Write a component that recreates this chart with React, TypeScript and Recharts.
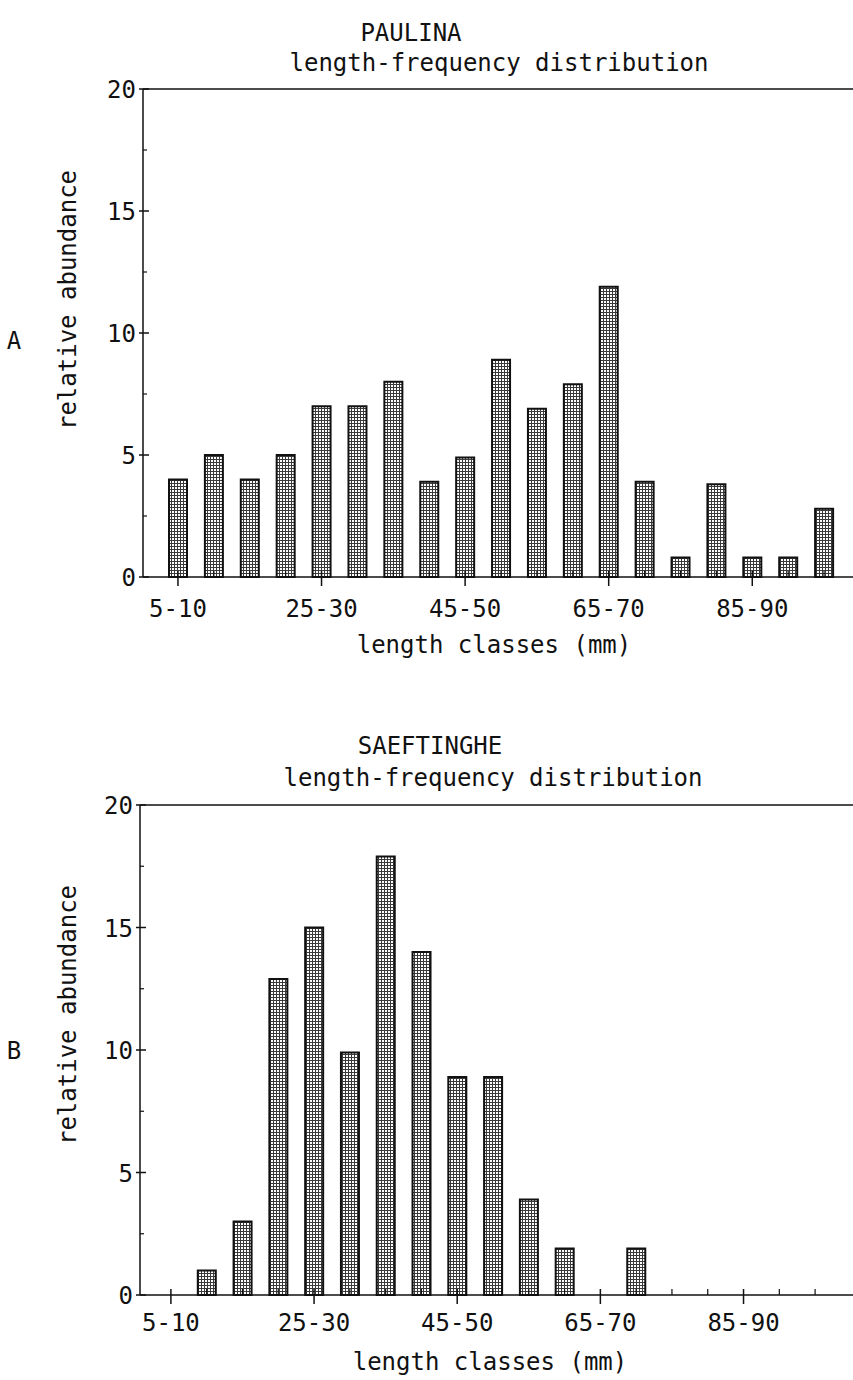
import React from 'react';
import { BarChart, Bar, XAxis, YAxis, ReferenceLine } from 'recharts';

const classes = ['5-10', '10-15', '15-20', '20-25', '25-30', '30-35', '35-40', '40-45', '45-50', '50-55', '55-60', '60-65', '65-70', '70-75', '75-80', '80-85', '85-90', '90-95', '95-100'];
const paulina = [4, 5, 4, 5, 7, 7, 8, 3.9, 4.9, 8.9, 6.9, 7.9, 11.9, 3.9, 0.8, 3.8, 0.8, 0.8, 2.8];
const saeftinghe = [0, 1, 3, 12.9, 15, 9.9, 17.9, 14, 8.9, 8.9, 3.9, 1.9, 0, 1.9, 0, 0, 0, 0, 0];
const yTicks = [0, 2.5, 5, 7.5, 10, 12.5, 15, 17.5, 20];
const majorY = [0, 5, 10, 15, 20];

const paulinaData = classes.map((c, i) => ({ cls: c, v: paulina[i] }));
const saeftingheData = classes.map((c, i) => ({ cls: c, v: saeftinghe[i] }));

const FONT = '"DejaVu Sans Mono", monospace';
const INK = '#111';

const XTick = (props: any) => {
  const { x, y, index, payload, labelDy } = props;
  const major = index % 4 === 0;
  return (
    <g>
      {major ? (
        <line x1={x} x2={x} y1={y - 6} y2={y + 9} stroke={INK} strokeWidth={1.5} />
      ) : (
        <line x1={x} x2={x} y1={y - 6} y2={y} stroke={INK} strokeWidth={1.2} />
      )}
      {major && (
        <text x={x} y={y + labelDy} textAnchor="middle" fontFamily={FONT} fontSize={24} fill={INK}>
          {payload.value}
        </text>
      )}
    </g>
  );
};

const YTick = (props: any) => {
  const { x, y, payload } = props;
  const major = majorY.includes(payload.value);
  return (
    <g>
      {major ? (
        <line x1={x - 4} x2={x + 6} y1={y} y2={y} stroke={INK} strokeWidth={1.5} />
      ) : (
        <line x1={x} x2={x + 4} y1={y} y2={y} stroke={INK} strokeWidth={1.2} />
      )}
      {major && (
        <text x={x - 7} y={y + 9} textAnchor="end" fontFamily={FONT} fontSize={24} fill={INK}>
          {payload.value}
        </text>
      )}
    </g>
  );
};

const Dots = ({ id }: { id: string }) => (
  <defs>
    <pattern id={id} width="3" height="3" patternUnits="userSpaceOnUse">
      <rect width="3" height="3" fill="#3a3a3a" />
      <rect x="1" y="1" width="2" height="2" fill="#ffffff" />
    </pattern>
  </defs>
);

const T = (p: { x: number; y: number; children: React.ReactNode; rotate?: boolean }) => (
  <text
    x={p.x}
    y={p.y}
    textAnchor="middle"
    fontFamily={FONT}
    fontSize={24}
    fill={INK}
    transform={p.rotate ? `rotate(-90 ${p.x} ${p.y})` : undefined}
  >
    {p.children}
  </text>
);

export default function App() {
  return (
    <div style={{ position: 'absolute', left: 0, top: 0, width: 853, height: 1380, background: '#fff' }}>
      <div style={{ position: 'absolute', left: 0, top: 0 }}>
        <BarChart width={853} height={700} data={paulinaData} margin={{ top: 89, right: 0, bottom: 0, left: 0 }} barSize={18}>
          <Dots id="dotsA" />
          <XAxis
            dataKey="cls"
            height={123}
            interval={0}
            padding={{ left: 17, right: 11 }}
            tickLine={false}
            tickSize={0}
            tickMargin={0}
            axisLine={{ stroke: INK, strokeWidth: 1.5 }}
            tick={<XTick labelDy={40} />}
          />
          <YAxis
            width={143}
            domain={[0, 20]}
            ticks={yTicks}
            interval={0}
            tickLine={false}
            tickSize={0}
            tickMargin={0}
            axisLine={{ stroke: INK, strokeWidth: 1.5 }}
            tick={<YTick />}
          />
          <ReferenceLine y={20} stroke={INK} strokeWidth={1.5} />
          <Bar dataKey="v" fill="url(#dotsA)" stroke={INK} strokeWidth={2} isAnimationActive={false} />
        </BarChart>
      </div>
      <div style={{ position: 'absolute', left: 0, top: 700 }}>
        <BarChart width={853} height={680} data={saeftingheData} margin={{ top: 105, right: 0, bottom: 0, left: 0 }} barSize={18}>
          <Dots id="dotsB" />
          <XAxis
            dataKey="cls"
            height={85}
            interval={0}
            padding={{ left: 13, right: 20 }}
            tickLine={false}
            tickSize={0}
            tickMargin={0}
            axisLine={{ stroke: INK, strokeWidth: 1.5 }}
            tick={<XTick labelDy={36} />}
          />
          <YAxis
            width={140}
            domain={[0, 20]}
            ticks={yTicks}
            interval={0}
            tickLine={false}
            tickSize={0}
            tickMargin={0}
            axisLine={{ stroke: INK, strokeWidth: 1.5 }}
            tick={<YTick />}
          />
          <ReferenceLine y={20} stroke={INK} strokeWidth={1.5} />
          <Bar dataKey="v" fill="url(#dotsB)" stroke={INK} strokeWidth={2} isAnimationActive={false} />
        </BarChart>
      </div>
      <svg width={853} height={1380} style={{ position: 'absolute', left: 0, top: 0, pointerEvents: 'none' }}>
        <T x={411} y={41}>PAULINA</T>
        <T x={499} y={71}>length-frequency distribution</T>
        <T x={76} y={300} rotate>relative abundance</T>
        <T x={14} y={349}>A</T>
        <T x={494} y={653}>length classes (mm)</T>
        <T x={430} y={754}>SAEFTINGHE</T>
        <T x={493} y={786}>length-frequency distribution</T>
        <T x={76} y={1015} rotate>relative abundance</T>
        <T x={14} y={1059}>B</T>
        <T x={490} y={1370}>length classes (mm)</T>
      </svg>
    </div>
  );
}
